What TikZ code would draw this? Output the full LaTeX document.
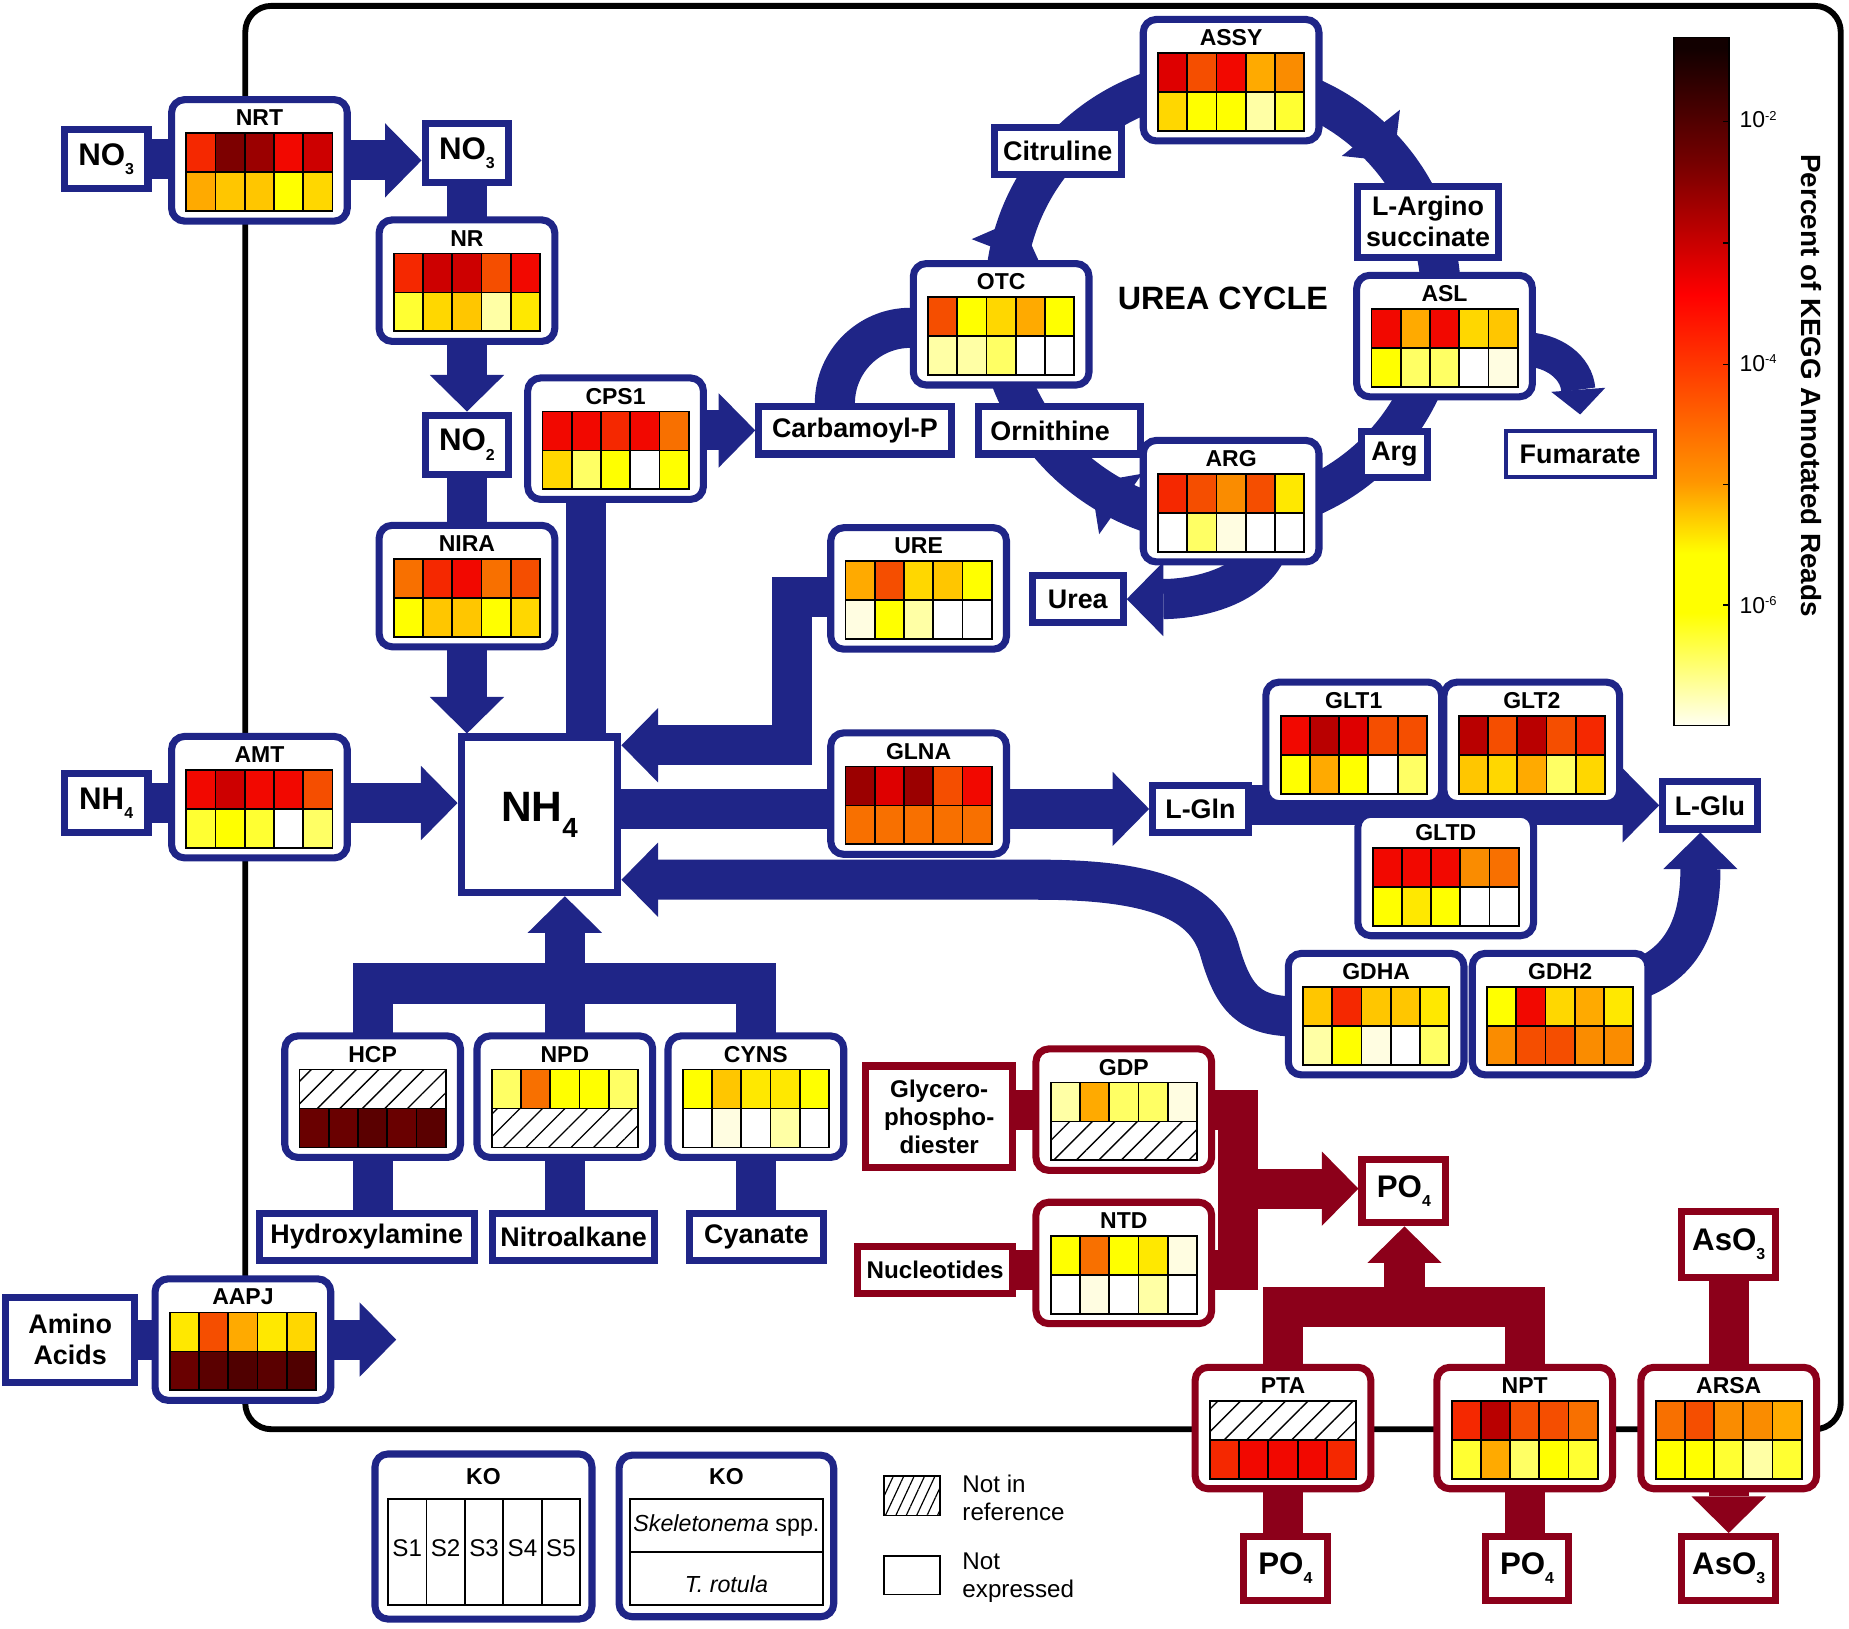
\documentclass[tikz,border=0pt]{standalone}
\usepackage{fontspec}
\setmainfont{Liberation Sans}
\usetikzlibrary{arrows.meta,positioning,calc,patterns.meta,decorations.markings}
\pgfdeclarelayer{background}
\pgfsetlayers{background,main}
\definecolor{cblue}{RGB}{31,37,135}
\definecolor{cred}{RGB}{140,0,26}
\definecolor{y0}{RGB}{255,253,225}
\definecolor{y1}{RGB}{255,255,165}
\definecolor{y2}{RGB}{255,255,100}
\definecolor{y3}{RGB}{255,255,50}
\definecolor{y4}{RGB}{255,255,0}
\definecolor{y5}{RGB}{255,232,0}
\definecolor{g1}{RGB}{255,215,0}
\definecolor{g2}{RGB}{255,198,0}
\definecolor{o1}{RGB}{255,170,0}
\definecolor{o2}{RGB}{250,140,0}
\definecolor{o3}{RGB}{248,112,0}
\definecolor{o4}{RGB}{245,78,0}
\definecolor{r1}{RGB}{245,40,0}
\definecolor{r2}{RGB}{242,8,0}
\definecolor{r3}{RGB}{222,0,0}
\definecolor{r4}{RGB}{205,0,0}
\definecolor{r5}{RGB}{185,0,0}
\definecolor{r6}{RGB}{155,0,0}
\definecolor{r7}{RGB}{125,0,0}
\definecolor{d1}{RGB}{105,0,0}
\definecolor{d2}{RGB}{90,0,0}
\definecolor{d3}{RGB}{80,0,0}
\definecolor{cbpale}{RGB}{255,255,242}
\definecolor{cborange}{RGB}{255,150,0}
\definecolor{cbdark}{RGB}{120,0,0}
\definecolor{cbblack}{RGB}{18,0,0}
\pgfdeclareverticalshading{heatbar}{100bp}{color(0bp)=(cbpale); color(25bp)=(cbpale);
  color(33.2bp)=(yellow); color(37.5bp)=(yellow); color(42.7bp)=(cborange);
  color(56.3bp)=(red); color(65.7bp)=(cbdark); color(74.2bp)=(cbblack); color(100bp)=(cbblack)}

\newcommand{\chemsub}[1]{\raisebox{-8pt}{\fontsize{13.5}{14}\selectfont #1}}
\newcommand{\bigsub}[1]{\raisebox{-14pt}{\fontsize{23.5}{24}\selectfont #1}}
\newcommand{\expo}[1]{\raisebox{6.5pt}{\fontsize{11}{11}\selectfont #1}}

% one row of a heat map (H = hatched, not in reference)
\def\hatchkey{H}
\newcommand{\heatrow}[3]{%
  \def\rowarg{#3}%
  \ifx\rowarg\hatchkey
    \draw[cell, pattern={Lines[angle=45,distance=13.5pt,line width=1.1pt]}]
      ($(#1.center)+(-62,-23+#2*33)$) rectangle ++(124,33);
  \else
    \foreach \c [count=\i from 0] in {#3}
      \draw[cell, fill=\c] ($(#1.center)+(-62+\i*24.8,-23+#2*33)$) rectangle ++(24.8,33);
  \fi}
% enzyme box: style+placement, name, title, top row, bottom row
\newcommand{\enzyme}[5]{%
  \node[#1] (#2) {};
  \node[enztitle] (#2-t) at ($(#2.center)+(0,-36)$) {#3};
  \heatrow{#2}{0}{#4}%
  \heatrow{#2}{1}{#5}}

\begin{document}
\begin{tikzpicture}[
  x=1pt, y=-1pt,
  >={Triangle[length=31pt,width=63pt,line width=0pt]},
  enz/.style={draw=cblue, line width=6pt, rounded corners=11pt, fill=white,
    minimum width=149pt, minimum height=103pt, inner sep=0pt},
  renz/.style={enz, draw=cred},
  enztitle/.style={font=\fontsize{19.5}{20}\selectfont\bfseries, inner sep=0pt},
  cell/.style={draw=black, line width=1.5pt},
  met/.style={draw=cblue, line width=6pt, fill=white, inner sep=0pt, align=center,
    font=\fontsize{22.8}{26}\selectfont\bfseries},
  rmet/.style={met, draw=cred, font=\fontsize{20.5}{24}\selectfont\bfseries},
  chem/.style={met, font=\fontsize{26.5}{28}\selectfont\bfseries,
    minimum width=71pt, minimum height=50pt},
  rchem/.style={chem, draw=cred},
  band/.style={draw=cblue, line width=34pt},
  rband/.style={draw=cred, line width=34pt},
  midarrow/.style={postaction={decorate},
    decoration={markings, mark=at position #1 with {\arrow{>}}}},
  legtext/.style={font=\fontsize{20.5}{23.5}\selectfont, inner sep=0pt, align=left},
  ticklab/.style={font=\fontsize{19.5}{20}\selectfont, inner sep=0pt, anchor=west}
]
  \useasboundingbox (0,0) rectangle (1568,1381);

  % nitrate and ammonium
  \node[chem] (no3a) at (90,135) {NO\chemsub{3}};
  \enzyme{enz, at={(220,136)}}{nrt}{NRT}{r1,r7,r6,r2,r4}{o1,g2,g2,y4,g1}
  \node[chem] (no3b) at (396,130) {NO\chemsub{3}};
  \enzyme{enz, at={(396,238)}}{nr}{NR}{r1,r4,r4,o4,r2}{y3,g1,g2,y1,y5}
  \node[chem] (no2) at (396,377) {NO\chemsub{2}};
  \enzyme{enz, at={(396,497)}}{nira}{NIRA}{o3,r1,r2,o3,o4}{y4,g2,g2,y4,g1}
  \enzyme{enz, at={(522,372)}}{cps}{CPS1}{r2,r2,r1,r2,o3}{g1,y2,y4,white,y4}
  \node[chem] (nh4a) at (90,681) {NH\chemsub{4}};
  \enzyme{enz, at={(220,676)}}{amt}{AMT}{r2,r4,r2,r2,o4}{y3,y4,y3,white,y2}
  \node[chem, minimum width=133pt, minimum height=132pt,
    font=\fontsize{36}{38}\selectfont\bfseries] (nh4) at (457.5,691) {NH\bigsub{4}};

  % urea cycle
  \node[met, minimum width=163pt, minimum height=40pt] (carb) at (725,365) {Carbamoyl-P};
  \enzyme{enz, at={(849,275)}}{otc}{OTC}{o4,y4,g1,o1,y4}{y1,y1,y2,white,white}
  \node[met, minimum width=108pt, minimum height=40pt] (citr) at (897,128) {Citruline};
  \enzyme{enz, at={(1044,68)}}{assy}{ASSY}{r3,o4,r2,o1,o2}{g1,y4,y4,y1,y3}
  \node[met, minimum width=120pt, minimum height=60pt] (larg) at (1211,188) {L-Argino\\succinate};
  \enzyme{enz, at={(1225,285)}}{asl}{ASL}{r2,o1,r2,g1,g2}{y4,y2,y2,white,y0}
  \node[met, minimum width=56pt, minimum height=39pt] (argm) at (1182.5,385.5) {Arg};
  \node[met, line width=3.5pt, minimum width=126.5pt, minimum height=39.5pt] (fum) at (1340,385) {Fumarate};
  \node[met, minimum width=137pt, minimum height=40pt] (orn) at (898.5,365) {Ornithine\hspace*{16pt}};
  \enzyme{enz, at={(1044,425)}}{arg}{ARG}{r1,o4,o2,o4,y5}{white,y2,y0,white,white}
  \node[font=\fontsize{27.4}{28}\selectfont\bfseries, inner sep=0pt] (ucycle) at (1037,253) {UREA CYCLE};

  % glutamine and glutamate
  \enzyme{enz, at={(779,499)}}{ure}{URE}{o1,o4,g1,g2,y4}{y0,y4,y1,white,white}
  \node[met, minimum width=77pt, minimum height=40pt] (urea) at (914,508) {Urea};
  \enzyme{enz, at={(779,673)}}{glna}{GLNA}{r6,r3,r6,o4,r2}{o3,o3,o3,o3,o3}
  \node[met, minimum width=81pt, minimum height=40pt] (lgln) at (1018,686) {L-Gln};
  \enzyme{enz, at={(1148,630)}}{glt1}{GLT1}{r2,r5,r3,o4,o4}{y4,o1,y4,white,y2}
  \enzyme{enz, right=-4pt of glt1}{glt2}{GLT2}{r5,o4,r5,o4,r1}{g2,g1,o1,y2,g1}
  \enzyme{enz, at={(1226,742)}}{gltd}{GLTD}{r2,r2,r2,o2,o3}{y4,y5,y4,white,white}
  \node[met, minimum width=80pt, minimum height=40pt] (lglu) at (1450,683) {L-Glu};
  \enzyme{enz, at={(1167,860)}}{gdha}{GDHA}{g2,r1,g2,g2,y5}{y1,y4,y0,white,y2}
  \enzyme{enz, right=1pt of gdha}{gdh2}{GDH2}{y4,r2,g1,o1,y5}{o2,o4,o4,o2,o2}

  % other nitrogen sources
  \enzyme{enz, at={(316,930)}}{hcp}{HCP}{H}{d1,d1,d2,d1,d2}
  \enzyme{enz, right=8pt of hcp}{npd}{NPD}{y2,o3,y4,y4,y2}{H}
  \enzyme{enz, right=7pt of npd}{cyns}{CYNS}{y4,g2,y5,y5,y4}{white,y0,white,y1,white}
  \node[met, minimum width=182pt, minimum height=40pt] (hyd) at (311,1049) {Hydroxylamine};
  \node[met, minimum width=137pt, minimum height=40pt] (nitro) at (486.5,1049) {Nitroalkane};
  \node[met, minimum width=113pt, minimum height=40pt] (cyan) at (641.5,1049) {Cyanate};
  \node[met, minimum width=109pt, minimum height=72pt] (amino) at (59.5,1136) {Amino\\Acids};
  \enzyme{enz, at={(206,1136)}}{aapj}{AAPJ}{y5,o4,o1,y5,g1}{d1,d2,d3,d2,d3}
  \coordinate (aapjout) at (336,1136);

  % phosphate and arsenate
  \node[rmet, minimum width=125pt, minimum height=86pt] (glyc) at (796.5,947) {Glycero-\\phospho-\\diester};
  \enzyme{renz, at={(953,941)}}{gdp}{GDP}{y1,o1,y2,y2,y0}{H}
  \node[rmet, minimum width=132pt, minimum height=40pt] (nucl) at (793,1077) {Nucleotides};
  \enzyme{renz, below=21pt of gdp}{ntd}{NTD}{y4,o3,y4,y5,y0}{white,y0,white,y1,white}
  \node[rchem, minimum height=54pt] (po4a) at (1190.5,1010) {PO\chemsub{4}};
  \enzyme{renz, at={(1088,1211)}}{pta}{PTA}{H}{r1,r2,r2,r2,r1}
  \enzyme{renz, right=50pt of pta}{npt}{NPT}{r1,r5,o4,o4,o3}{y3,o1,y2,y4,y3}
  \enzyme{renz, right=18pt of npt}{arsa}{ARSA}{o3,o4,o2,o2,o1}{y4,y4,y3,y1,y3}
  \node[rchem, minimum height=54pt] (po4b) at (1090,1330) {PO\chemsub{4}};
  \node[rchem, minimum height=54pt] (po4c) at (1295,1330) {PO\chemsub{4}};
  \node[rchem, minimum width=80pt, minimum height=56pt] (aso3a) at (1466,1055) {AsO\chemsub{3}};
  \node[rchem, minimum width=80pt, minimum height=54pt] (aso3b) at (1466,1330) {AsO\chemsub{3}};

  % colour bar
  \node[draw=black, line width=1.5pt, shade, shading=heatbar, inner sep=0pt,
    minimum width=46.5pt, minimum height=583.5pt] (cbar) at (1443,323.5) {};
  \foreach \ty in {103,206,309,411,513}
    \draw[line width=1pt] (1466,\ty) -- ++(-5,0);
  \node[ticklab] (tk2) at (1475,101.5) {10\expo{-2}};
  \node[ticklab] (tk4) at (1475,308) {10\expo{-4}};
  \node[ticklab] (tk6) at (1475,513) {10\expo{-6}};
  \node[font=\fontsize{23.6}{24}\selectfont\bfseries, rotate=-90, inner sep=0pt]
    (cbarlab) at (1536,327) {Percent of KEGG Annotated Reads};

  % legend
  \node[enz, minimum width=184pt, minimum height=140pt] (ko1) at (410,1303) {};
  \node[enztitle] (ko1-t) at ($(ko1.center)+(0,-51)$) {KO};
  \draw[cell] (329,1271) rectangle (492,1361);
  \foreach \k in {1,...,4}
    \draw[cell] (329+32.6*\k,1271) -- (329+32.6*\k,1361);
  \foreach \k in {1,...,5}
    \node[legtext] (s\k) at (329+32.6*\k-16.3,1313) {S\k};
  \node[enz, minimum width=182pt, minimum height=137pt] (ko2) at (616,1302.5) {};
  \node[enztitle] (ko2-t) at ($(ko2.center)+(0,-50.5)$) {KO};
  \draw[cell] (534,1271) rectangle (698,1361);
  \draw[cell] (534,1316) -- (698,1316);
  \node[legtext, font=\fontsize{19.7}{22}\selectfont] (skel) at (616,1294) {\textit{Skeletonema} spp.};
  \node[legtext, font=\fontsize{19.7}{22}\selectfont] (trot) at (616,1343) {\textit{T. rotula}};
  \node[cell, minimum width=47.5pt, minimum height=33.5pt, inner sep=0pt,
    pattern={Lines[angle=65,distance=8pt,line width=1pt]}] (lhatch) at (773.5,1268.5) {};
  \node[cell, minimum width=47.5pt, minimum height=32.5pt, inner sep=0pt] (lempty) at (773.5,1336) {};
  \node[legtext, anchor=west] (lhatch-t) at (816,1270.5) {Not in\\reference};
  \node[legtext, anchor=west] (lempty-t) at (816,1338) {Not\\expressed};

  \begin{pgfonlayer}{background}
    \draw[line width=5pt, rounded corners=22pt] (208,5) rectangle (1561,1212);
    % nitrate to ammonium
    \draw[band] (no3a.center) -- (nrt.center |- no3a.center);
    \draw[band,->] (nrt.center) -- (no3b.west |- nrt.center);
    \draw[band] (no3b.center) -- (nr.center);
    \draw[band,->] (nr.center) -- (no2.north);
    \draw[band] (no2.center) -- (nira.center);
    \draw[band,->] (nira.center) -- (nira.center |- nh4.north);
    \coordinate (cpsout) at ($(cps.center)+(-25,0)$);
    \draw[band] (cpsout) -- (cpsout |- nh4.center);
    \draw[band,->] (cps.center |- carb.west) -- (carb.west);
    \draw[band] ($(carb.north)+(-17,10)$) -- (708,342) .. controls (708,306.7) and (736.7,278) .. (772,278)
      -- ($(otc.center)+(0,3)$);
    \draw[band] (nh4a.center) -- (amt.center |- nh4a.center);
    \draw[band,->] (amt.center |- nh4a.center) -- (nh4.west |- nh4a.center);
    \draw[band,->] (nh4.center |- lgln.center) -- (lgln.west);
    \draw[band,->] (lgln.center |- lglu.center) -- (lglu.west);
    \draw[band,->] (ure.center) ++(0,7) -- (672,506) |- ($(nh4.east)+(0,-59)$);
    \draw[band,->] (gdha.center) ++(0,2) -- (1100,862) .. controls (1060,862) and (1046,848) .. (1034,805)
      .. controls (1022,765) and (980,746) .. (880,746) -- ($(nh4.east)+(0,55)$);
    \draw[band,->] (gdh2.center) ++(0,-30) -- (1390,830) .. controls (1428,815) and (1442,782)
      .. ($(lglu.south)+(-8,0)$);
    % urea cycle
    \draw[band,midarrow=0.17] ($(otc.center)+(5,-49)$) .. controls (865.8,141) and (935.2,75.2)
      .. ($(assy.center)+(-23,0)$);
    \draw[band,midarrow=0.49] ($(assy.center)+(9,0)$) .. controls (1161.2,77.1) and (1238.1,177.2)
      .. ($(asl.center)+(-6,-1)$);
    \draw[band] ($(asl.center)+(-7,5)$) .. controls (1201.1,370) and (1134.1,429.2)
      .. ($(arg.center)+(9,11)$);
    \draw[band,midarrow=0.39] ($(arg.center)+(-41,17)$) .. controls (929.6,429.1) and (870,374.5)
      .. ($(otc.center)+(2,27)$);
    \draw[band,->] ($(arg.center)+(31,40)$) .. controls (1060,500) and (1010,508) .. (urea.east);
    \draw[band, line width=29pt, -{Triangle[length=21pt,width=46pt,line width=0pt]}]
      ($(asl.center)+(65,11)$) .. controls (1318,296) and (1337,312) .. ($(fum.north)+(0,-12)$);
    % other nitrogen sources
    \coordinate (nbar) at (479,834);
    \draw[band] (hcp.center) |- (nbar) -| (cyns.center);
    \draw[band] (npd.center) -- (nbar);
    \draw[band,->] (nbar) -- (nbar |- nh4.south);
    \draw[band] (hcp.center) -- (hcp.center |- hyd.center);
    \draw[band] (npd.center) -- (npd.center |- nitro.center);
    \draw[band] (cyns.center) -- (cyns.center |- cyan.center);
    \draw[band] (amino.center) -- (aapj.center |- amino.center);
    \draw[band,->] (aapj.center |- amino.center) -- (aapjout);
    % phosphate and arsenate
    \draw[rband] (glyc.center |- gdp.center) -- (gdp.center);
    \draw[rband] (nucl.center) -- (ntd.center |- nucl.center);
    \coordinate (pbar) at (1050,1008);
    \draw[rband] (gdp.center) -| (pbar |- nucl.center) -- (ntd.center |- nucl.center);
    \draw[rband,->] (pbar) -- (po4a.west |- pbar);
    \coordinate (pbar2) at (1191,1108);
    \draw[rband] (pta.center) |- (pbar2) -| (npt.center);
    \draw[rband,->] (pbar2) -- (pbar2 |- po4a.south);
    \draw[rband] (pta.center) -- (pta.center |- po4b.center);
    \draw[rband] (npt.center) -- (npt.center |- po4c.center);
    \draw[rband] (aso3a.center) -- (arsa.center);
    \draw[rband,->] (arsa.center) -- (aso3b.north);
  \end{pgfonlayer}
\end{tikzpicture}
\end{document}
